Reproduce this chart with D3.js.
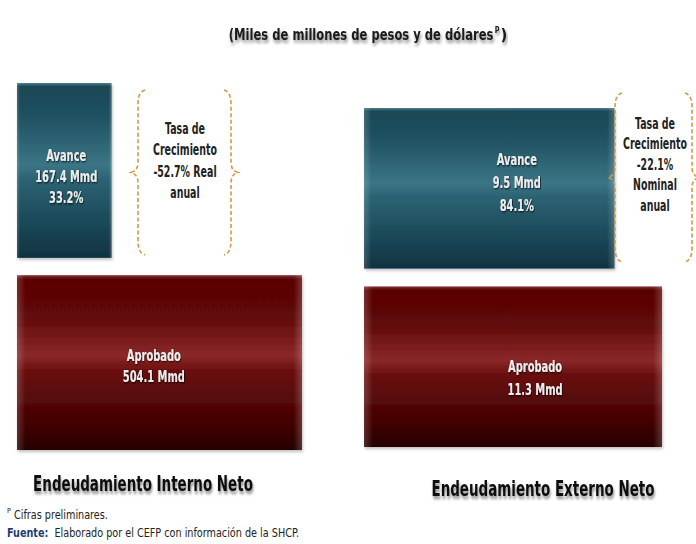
<!DOCTYPE html>
<html>
<head>
<meta charset="utf-8">
<script src="https://cdn.jsdelivr.net/npm/d3@7"></script>
<style>
  html, body { margin: 0; padding: 0; background: #fff; }
  text { font-family: 'DejaVu Sans Condensed', 'DejaVu Sans', sans-serif; }
</style>
</head>
<body>
<div id="chart"></div>
<script>
// Data
const categories = ['Endeudamiento Interno Neto', 'Endeudamiento Externo Neto'];
const avance = [167.4, 9.5];
const aprobado = [504.1, 11.3];
const avancePct = ['33.2%', '84.1%'];
const braceLines = [
    ['Tasa de', 'Crecimiento', '-52.7% Real', 'anual'],
    ['Tasa de', 'Crecimiento', '-22.1%', 'Nominal', 'anual']
];
const unit = 'Mmd';
const subtitle = '(Miles de millones de pesos y de dólares';
const notes = ['Cifras preliminares.', 'Elaborado por el CEFP con información de la SHCP.'];

// Layout per panel (pixels)
const layout = [
    { x0: 17, x1: 302, y0: 83, y1: 450, pad: 0.09,
      labelFrac: [0.52, 0.48], labelDy: [6, 3], lineH: 21,
      brace: { l: 138, r: 231, y0: 90, y1: 255 },
      braceX: 185, braceY: 128, braceH: 21.5,
      titleX: 143, titleY: 491 },
    { x0: 364, x1: 662, y0: 108, y1: 447, pad: 0.1,
      labelFrac: [0.61, 0.574], labelDy: [-6, 11], lineH: 23,
      brace: { l: 615, r: 692, y0: 93, y1: 262 },
      braceX: 655, braceY: 123, braceH: 20.5,
      titleX: 543, titleY: 496 }
];

const width = 696, height = 544;

// The reference font is narrow: draw DejaVu Condensed squeezed horizontally
function narrowText(parent, x, y, str, f, style) {
    const g = parent.append('g');
    const t = g.append('text').text(str);
    Object.entries(style || {}).forEach(([k, v]) => t.attr(k, v));
    const w = t.node().getComputedTextLength() * f;
    const place = (nx, ny) => g.attr('transform', `translate(${nx},${ny}) scale(${f},1)`);
    place(x, y);
    return { g, t, w, place };
}

const svg = d3.select('#chart').append('svg')
    .attr('width', width)
    .attr('height', height)
    .style('background', '#fff');

const defs = svg.append('defs');

// Cylinder-like vertical gradients
function addGradient(id, stops) {
    const g = defs.append('linearGradient')
        .attr('id', id)
        .attr('x1', 0).attr('y1', 0).attr('x2', 0).attr('y2', 1);
    stops.forEach(s => g.append('stop')
        .attr('offset', s[0])
        .attr('stop-color', s[1]));
}
addGradient('tealGrad', [
    ['0%', '#4f7f8c'], ['2%', '#1a4756'], ['20%', '#205262'],
    ['47%', '#3b7585'], ['55%', '#2c6373'], ['85%', '#184353'], ['100%', '#10323f']
]);
addGradient('redGrad', [
    ['0%', '#8a3a3a'], ['2%', '#5a0505'], ['22%', '#5e0707'],
    ['46%', '#8a2828'], ['55%', '#6a0e0e'], ['85%', '#430202'], ['100%', '#260000']
]);

const edge = defs.append('linearGradient')
    .attr('id', 'edgeGrad')
    .attr('x1', 0).attr('y1', 0).attr('x2', 1).attr('y2', 0);
[['0%', 0.18], ['3%', 0], ['97%', 0], ['100%', 0.2]].forEach(s =>
    edge.append('stop').attr('offset', s[0])
        .attr('stop-color', '#fff').attr('stop-opacity', s[1]));

const barShadow = defs.append('filter').attr('id', 'barShadow')
    .attr('x', '-5%').attr('y', '-5%').attr('width', '110%').attr('height', '115%');
barShadow.append('feDropShadow')
    .attr('dx', 1).attr('dy', 2).attr('stdDeviation', 1.5)
    .attr('flood-color', '#000').attr('flood-opacity', 0.25);

const textShadow = defs.append('filter').attr('id', 'textShadow')
    .attr('x', '-10%').attr('y', '-30%').attr('width', '120%').attr('height', '180%');
textShadow.append('feDropShadow')
    .attr('dx', 1.3).attr('dy', 3).attr('stdDeviation', 1.8)
    .attr('flood-color', '#000').attr('flood-opacity', 0.45);

const labelShadow = defs.append('filter').attr('id', 'labelShadow');
labelShadow.append('feDropShadow')
    .attr('dx', 1).attr('dy', 1).attr('stdDeviation', 0.8)
    .attr('flood-color', '#000').attr('flood-opacity', 0.8);

// Subtitle: main text, superscript P, closing parenthesis
const subStyle = { 'font-size': '16.5px', 'font-weight': 'bold', fill: '#1a1a1a',
    filter: 'url(#textShadow)' };
const subMain = narrowText(svg, 0, 40, subtitle, 0.78, subStyle);
const subSup = narrowText(svg, 0, 33, 'P', 0.8,
    { ...subStyle, 'font-size': '9px' });
const subEnd = narrowText(svg, 0, 40, ')', 1, subStyle);
const subX = 368 - (subMain.w + subSup.w + subEnd.w + 2) / 2;
subMain.place(subX, 40);
subSup.place(subX + subMain.w + 1, 33);
subEnd.place(subX + subMain.w + subSup.w + 2, 40);

// Brace path helper, tip points outward
function bracePath(bx, y0, y1, dir) {
    const ym = (y0 + y1) / 2;
    const hx = bx - dir * 7;
    const tx = bx + dir * 7;
    return `M${hx},${y0} Q${bx},${y0 + 2} ${bx},${y0 + 14} ` +
        `L${bx},${ym - 10} Q${bx},${ym - 2} ${tx},${ym} ` +
        `Q${bx},${ym + 2} ${bx},${ym + 10} ` +
        `L${bx},${y1 - 14} Q${bx},${y1 - 2} ${hx},${y1}`;
}

categories.forEach((cat, i) => {
    const L = layout[i];
    const g = svg.append('g');

    const xScale = d3.scaleLinear()
        .domain([0, aprobado[i]])
        .range([L.x0, L.x1]);

    const yScale = d3.scaleBand()
        .domain(['Avance', 'Aprobado'])
        .range([L.y0, L.y1])
        .paddingInner(L.pad);

    const bars = [
        { key: 'Avance', value: avance[i], fill: 'url(#tealGrad)',
          lines: ['Avance', `${avance[i]} ${unit}`, avancePct[i]] },
        { key: 'Aprobado', value: aprobado[i], fill: 'url(#redGrad)',
          lines: ['Aprobado', `${aprobado[i]} ${unit}`] }
    ];

    const barG = g.selectAll('g.bar')
        .data(bars)
        .enter()
        .append('g')
        .attr('class', 'bar');

    barG.append('rect')
        .attr('x', xScale(0))
        .attr('y', d => yScale(d.key))
        .attr('width', d => xScale(d.value) - xScale(0))
        .attr('height', yScale.bandwidth())
        .attr('fill', d => d.fill)
        .attr('filter', 'url(#barShadow)');

    barG.append('rect')
        .attr('x', xScale(0))
        .attr('y', d => yScale(d.key))
        .attr('width', d => xScale(d.value) - xScale(0))
        .attr('height', yScale.bandwidth())
        .attr('fill', 'url(#edgeGrad)');

    barG.each(function(d, j) {
        const cx = xScale(d.value * L.labelFrac[j]);
        const cy = yScale(d.key) + yScale.bandwidth() / 2 + L.labelDy[j];
        const n = d.lines.length;
        d.lines.forEach((line, k) => {
            narrowText(d3.select(this), cx, cy + (k - (n - 1) / 2) * L.lineH + 5.5, line, 0.71, {
                'text-anchor': 'middle',
                'font-size': '15.5px',
                'font-weight': 'bold',
                fill: '#ececec',
                filter: 'url(#labelShadow)'
            });
        });
    });

    // Growth-rate brace
    const B = L.brace;
    [[B.l, -1], [B.r, 1]].forEach(([bx, dir]) => {
        g.append('path')
            .attr('d', bracePath(bx, B.y0, B.y1, dir))
            .attr('fill', 'none')
            .attr('stroke', '#d09a48')
            .attr('stroke-width', 1.6)
            .attr('stroke-dasharray', '4,2.5');
    });

    braceLines[i].forEach((line, k) => {
        narrowText(g, L.braceX, L.braceY + k * L.braceH + 5.5, line, 0.7, {
            'text-anchor': 'middle',
            'font-size': '15px',
            'font-weight': 'bold',
            fill: '#222'
        });
    });

    // Panel title
    narrowText(g, L.titleX, L.titleY, cat, 0.68, {
        'text-anchor': 'middle',
        'font-size': '22px',
        'font-weight': 'bold',
        fill: '#111',
        filter: 'url(#textShadow)'
    });
});

// Footnotes
svg.append('text')
    .attr('x', 7)
    .attr('y', 513)
    .attr('font-size', '7px')
    .attr('fill', '#222')
    .text('P');
narrowText(svg, 14, 519, notes[0], 0.86, { 'font-size': '12.5px', fill: '#222' });

const fu = narrowText(svg, 7, 537, 'Fuente:', 0.86,
    { 'font-size': '12.5px', 'font-weight': 'bold', fill: '#1f3f6e' });
narrowText(svg, 7 + fu.w + 6, 537, notes[1], 0.86, { 'font-size': '12.5px', fill: '#222' });
</script>
</body>
</html>
